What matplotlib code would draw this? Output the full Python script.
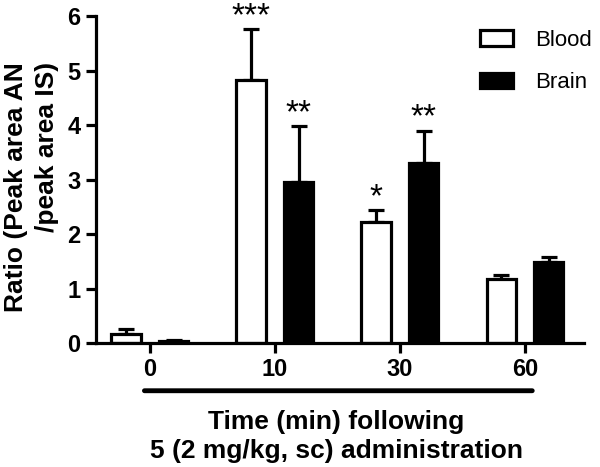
import numpy as np
import matplotlib
matplotlib.use("Agg")
import matplotlib.pyplot as plt

plt.rcParams['font.family'] = ['Liberation Sans', 'DejaVu Sans']

times = ["0", "10", "30", "60"]
blood = [0.17, 4.83, 2.22, 1.17]
blood_err = [0.08, 0.93, 0.22, 0.08]
brain = [0.03, 2.95, 3.30, 1.49]
brain_err = [0.03, 1.03, 0.60, 0.09]
blood_stars = ["", "***", "*", ""]
brain_stars = ["", "**", "**", ""]

fig = plt.figure(figsize=(6, 4.67), dpi=100)
ax = fig.add_axes([0.16, 0.2655, 0.813, 0.7])

x = np.arange(len(times))
w = 0.235
off = 0.19
lw = 2.3

ax.bar(x - off, blood, w, color="white", edgecolor="black", linewidth=lw, label="Blood", zorder=2)
ax.bar(x + off, brain, w, color="black", edgecolor="black", linewidth=lw, label="Brain", zorder=2)
ax.errorbar(x - off, blood, yerr=[np.zeros(4), blood_err], fmt="none", ecolor="black",
            elinewidth=lw, capsize=5.5, capthick=lw, zorder=1)
ax.errorbar(x + off, brain, yerr=[np.zeros(4), brain_err], fmt="none", ecolor="black",
            elinewidth=lw, capsize=5.5, capthick=lw, zorder=1)

# significance stars
for i in range(len(times)):
    if blood_stars[i]:
        ax.text(x[i] - off, blood[i] + blood_err[i] + 0.07, blood_stars[i], ha="center",
                va="baseline", fontsize=24, clip_on=False)
    if brain_stars[i]:
        ax.text(x[i] + off, brain[i] + brain_err[i] + 0.07, brain_stars[i], ha="center",
                va="baseline", fontsize=24, clip_on=False)

ax.set_xlim(-0.43, 3.47)
ax.set_ylim(0, 6)
ax.set_yticks(range(7))
ax.set_xticks(x)
ax.set_xticklabels(times)
for s in ["top", "right"]:
    ax.spines[s].set_visible(False)
for s in ["left", "bottom"]:
    ax.spines[s].set_linewidth(lw)
ax.tick_params(width=lw, length=7, labelsize=17, pad=4)
for lab in ax.get_xticklabels() + ax.get_yticklabels():
    lab.set_fontweight("bold")

fig.text(0.052, 0.60, "Ratio (Peak area AN\n/peak area IS)", rotation=90, ha="center",
         va="center", multialignment="right", fontsize=19, fontweight="bold", linespacing=1.35)

# bar under the time labels
ax.annotate("", xy=(-0.065, -0.146), xytext=(3.08, -0.146), xycoords=("data", "axes fraction"),
            textcoords=("data", "axes fraction"),
            arrowprops=dict(arrowstyle="-", linewidth=3.5, color="black"), annotation_clip=False)
ax.text(1.49, -0.205, "Time (min) following\n5 (2 mg/kg, sc) administration",
        transform=ax.get_xaxis_transform(), ha="center", va="top", fontsize=19,
        fontweight="bold", linespacing=1.25)

ax.legend(loc="upper left", bbox_to_anchor=(480 / 600, 1 - 30 / 467),
          bbox_transform=fig.transFigure, frameon=False, fontsize=16, borderpad=0,
          borderaxespad=0, handlelength=1.5, handleheight=0.7, handletextpad=1.0,
          labelspacing=0.95)

fig.savefig("out.png", dpi=100)
